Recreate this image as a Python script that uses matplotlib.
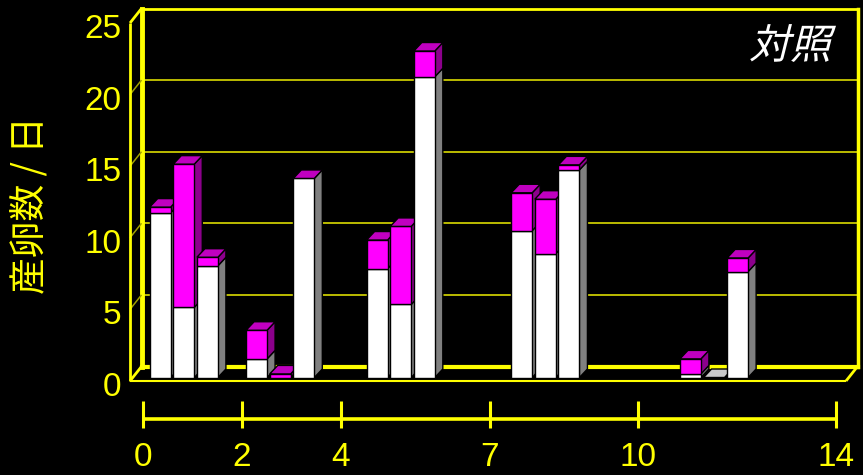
import numpy as np
import matplotlib
matplotlib.use("Agg")
import matplotlib.pyplot as plt
from matplotlib.patches import Polygon
from matplotlib.lines import Line2D
from matplotlib.transforms import IdentityTransform, ScaledTranslation, Affine2D
from matplotlib.patheffects import AbstractPathEffect

# ---- data ---------------------------------------------------------------
day_ticks = [0, 2, 4, 7, 10, 14]          # sampling days
period_start = [0, 2, 4, 7, 10]           # each bar group covers one period
period_end = [2, 4, 7, 10, 14]
# eggs laid per day, three replicates per period (lower / upper stack part)
eggs_white = [[11.5, 4.9, 7.8],
              [1.3, 0.0, 13.9],
              [7.6, 5.1, 21.0],
              [10.25, 8.65, 14.5],
              [0.25, 0.0, 7.4]]
eggs_magenta = [[0.4, 10.0, 0.6],
                [2.0, 0.25, 0.0],
                [2.0, 5.45, 1.8],
                [2.65, 3.8, 0.35],
                [1.05, 0.0, 0.95]]
value_ticks = [0, 5, 10, 15, 20, 25]
y_title = "産卵数 / 日"
panel_label = "対照"

# ---- style --------------------------------------------------------------
YELLOW = "#ffff00"
GRID = "#dada00"
WALL_DIAG = "#a0a000"
WHITE, WHITE_SIDE = "#ffffff", "#808080"
MAGENTA, MAGENTA_SIDE, MAGENTA_TOP = "#ff00ff", "#8c008c", "#c000c0"
EMPTY_TOP = "#c8c8c8"

plt.rcParams["font.family"] = ["Liberation Sans", "Noto Sans CJK JP", "DejaVu Sans"]

W, H, DPI = 863, 475, 100
fig = plt.figure(figsize=(W / DPI, H / DPI), dpi=DPI, facecolor="black")

# front plane of the 3-D box (pixels from the top-left corner)
FX0, FX1, FY0, FY1 = 130, 846, 381, 23
ax = fig.add_axes([FX0 / W, 1 - FY0 / H, (FX1 - FX0) / W, (FY0 - FY1) / H])
ax.set_facecolor("black")
X_LO, X_HI = -0.054, 14.80
V_LO, V_HI = value_ticks[0], value_ticks[-1]
ax.set_xlim(X_LO, X_HI)
ax.set_ylim(V_LO, V_HI)
for s in ax.spines.values():
    s.set_visible(False)
ax.set_xticks([])
ax.set_yticks(value_ticks)
ax.tick_params(axis="y", length=0, pad=6, labelsize=24, labelcolor=YELLOW)
nudge = ScaledTranslation(0, -3 / DPI, fig.dpi_scale_trans)
for lab in ax.get_yticklabels():
    lab.set_transform(lab.get_transform() + nudge)

WALL = np.array([11.5, 14.5])       # depth of the box, pixels
BAR_FRONT = np.array([3.0, 3.5])    # bar front face, pixels behind the front plane
BAR_BACK = np.array([11.0, 12.0])   # bar back face
BAR_W, BAR_STEP = 0.435, 0.49       # in days

back = ax.transData + ScaledTranslation(WALL[0] / DPI, WALL[1] / DPI, fig.dpi_scale_trans)
ident = IdentityTransform()


def px(x, y, off=(0.0, 0.0)):
    return ax.transData.transform((x, y)) + np.asarray(off)


def seg(p, q, **kw):
    ax.add_line(Line2D([p[0], q[0]], [p[1], q[1]], transform=ident,
                       clip_on=False, solid_capstyle="butt", **kw))


# back wall: gridlines and frame
for v in value_ticks[1:-1]:
    ax.plot([X_LO, X_HI], [v, v], color=GRID, lw=1.2, transform=back,
            clip_on=False, zorder=1)
ax.plot([X_LO, X_HI], [V_HI, V_HI], color=YELLOW, lw=2, transform=back,
        clip_on=False, zorder=1)
ax.plot([X_LO, X_HI], [V_LO, V_LO], color=YELLOW, lw=3, transform=back,
        clip_on=False, zorder=1)
ax.plot([X_LO, X_LO], [V_LO, V_HI], color=YELLOW, lw=3.5, transform=back,
        clip_on=False, zorder=1)
ax.plot([X_HI, X_HI], [V_LO, V_HI], color=YELLOW, lw=2.5, transform=back,
        clip_on=False, zorder=1)

# left wall and floor edges
for v in value_ticks:
    edge = v in (V_LO, V_HI)
    seg(px(X_LO, v), px(X_LO, v, WALL), color=YELLOW if edge else WALL_DIAG,
        lw=2 if edge else 1.1, zorder=1)
seg(px(X_LO, V_LO), px(X_LO, V_HI), color=YELLOW, lw=2, zorder=1)
seg(px(X_HI, V_LO), px(X_HI, V_LO, WALL), color=YELLOW, lw=2, zorder=1)
seg(px(X_LO, V_LO), px(X_HI, V_LO), color=YELLOW, lw=1.5, zorder=1)


def face(pts, color, z):
    ax.add_patch(Polygon(pts, closed=True, facecolor=color, edgecolor="black",
                         lw=1.0, transform=ident, clip_on=False, zorder=z))


# stacked 3-D bars, drawn left to right so nearer faces overlap correctly
z = 3
for g in range(len(period_start)):
    centre = (period_start[g] + period_end[g]) / 2
    for r in range(3):
        xc = centre + (r - 1) * BAR_STEP
        x0, x1 = xc - BAR_W / 2, xc + BAR_W / 2
        w, m = eggs_white[g][r], eggs_magenta[g][r]
        parts = [(0.0, w, WHITE, WHITE_SIDE), (w, w + m, MAGENTA, MAGENTA_SIDE)]
        for lo, hi, c_front, c_side in parts:
            if hi <= lo:
                continue
            face([px(x1, lo, BAR_FRONT), px(x1, lo, BAR_BACK),
                  px(x1, hi, BAR_BACK), px(x1, hi, BAR_FRONT)], c_side, z)
            face([px(x0, lo, BAR_FRONT), px(x1, lo, BAR_FRONT),
                  px(x1, hi, BAR_FRONT), px(x0, hi, BAR_FRONT)], c_front, z)
        top = w + m
        face([px(x0, top, BAR_FRONT), px(x1, top, BAR_FRONT),
              px(x1, top, BAR_BACK), px(x0, top, BAR_BACK)],
             MAGENTA_TOP if top > 0 else EMPTY_TOP, z)
        z += 1

# day axis below the box
D_PX0, D_PX_PER_DAY = 143, 49.5
span = day_ticks[-1] - day_ticks[0]
axd = fig.add_axes([D_PX0 / W, 1 - 430 / H, D_PX_PER_DAY * span / W, 30 / H])
axd.set_facecolor("none")
axd.set_xlim(day_ticks[0], day_ticks[-1])
axd.set_ylim(0, 1)
for s in axd.spines.values():
    s.set_visible(False)
axd.hlines(0.367, day_ticks[0], day_ticks[-1], color=YELLOW, lw=2.6, clip_on=False)
axd.vlines(day_ticks, 0.067, 0.967, color=YELLOW, lw=2.2, clip_on=False)
axd.set_yticks([])
axd.set_xticks(day_ticks)
axd.set_xticklabels([str(d) for d in day_ticks])
axd.tick_params(axis="x", length=0, pad=8.5, labelsize=24, labelcolor=YELLOW)

# axis title
fig.text(31 / W, 1 - 205 / H, y_title, rotation=90, ha="center", va="center",
         fontsize=26.5, color=YELLOW, family=["Noto Sans CJK JP", "DejaVu Sans"])


class Oblique(AbstractPathEffect):
    """Slant glyph outlines to give an italic look."""

    def __init__(self, slant=0.25):
        super().__init__()
        self.slant = slant

    def draw_path(self, renderer, gc, tpath, affine, rgbFace=None):
        skew = Affine2D().skew(np.arctan(self.slant), 0)
        renderer.draw_path(gc, tpath, skew + affine, rgbFace)


fig.text(831 / W, 1 - 47 / H, panel_label, ha="right", va="center", fontsize=29.5,
         color="white", family=["Noto Sans CJK JP", "DejaVu Sans"],
         path_effects=[Oblique(0.25)])

fig.savefig("out.png", dpi=DPI, facecolor="black")
